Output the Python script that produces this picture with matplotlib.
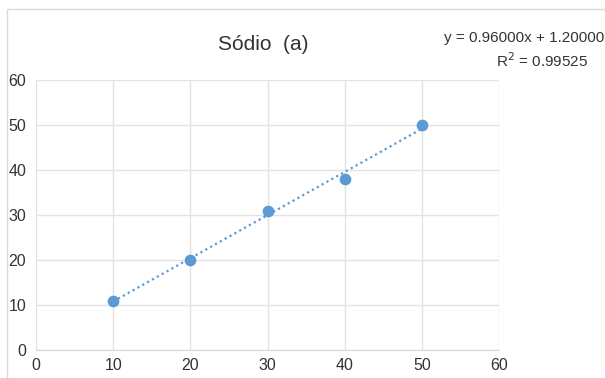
import matplotlib
matplotlib.use("Agg")
import matplotlib.pyplot as plt
import numpy as np

x_vals = [10, 20, 30, 40, 50]
y_vals = [11, 20, 31, 38, 50]
x_ticks = [0, 10, 20, 30, 40, 50, 60]
y_ticks = [0, 10, 20, 30, 40, 50, 60]
title = "Sódio  (a)"

plt.rcParams['font.family'] = ['Liberation Sans', 'DejaVu Sans']

fig = plt.figure(figsize=(6.05, 3.78), dpi=100)
ax = fig.add_axes([0.0595, 0.074, 0.7655, 0.714])

slope, intercept = np.polyfit(x_vals, y_vals, 1)
xs = np.array([min(x_vals), max(x_vals)])
ax.plot(xs, slope * xs + intercept, linestyle=(0, (1, 1.5)), color='#5B9BD5', lw=1.6, zorder=2)
ax.scatter(x_vals, y_vals, s=55, color='#5B9BD5', zorder=3)

pred = slope * np.array(x_vals) + intercept
ss_res = np.sum((np.array(y_vals) - pred) ** 2)
ss_tot = np.sum((np.array(y_vals) - np.mean(y_vals)) ** 2)
r2 = 1 - ss_res / ss_tot

ax.set_xlim(0, 60)
ax.set_ylim(0, 60)
ax.set_xticks(x_ticks)
ax.set_yticks(y_ticks)
ax.grid(True, color='#E3E3E3', lw=1)
ax.set_axisbelow(True)
for s in ['top', 'right', 'left']:
    ax.spines[s].set_visible(False)
ax.spines['bottom'].set_color('#D9D9D9')
ax.tick_params(length=0, labelsize=11.5, colors='#333333', pad=6)
ax.tick_params(axis='y', pad=7)

fig.text(0.435, 0.883, title, ha='center', va='center', fontsize=15, color='#333333')
fig.text(0.998, 0.9, f"y = {slope:.5f}x + {intercept:.5f}", ha='right', va='center', fontsize=11, color='#333333')
fig.text(0.972, 0.84, f"R$^2$ = {r2:.5f}", ha='right', va='center', fontsize=11, color='#333333')

fig.add_artist(plt.Rectangle((0.012, -0.01), 1.0, 0.985, transform=fig.transFigure, fill=False, edgecolor='#D9D9D9', lw=1))

fig.savefig("out.png", dpi=100)
